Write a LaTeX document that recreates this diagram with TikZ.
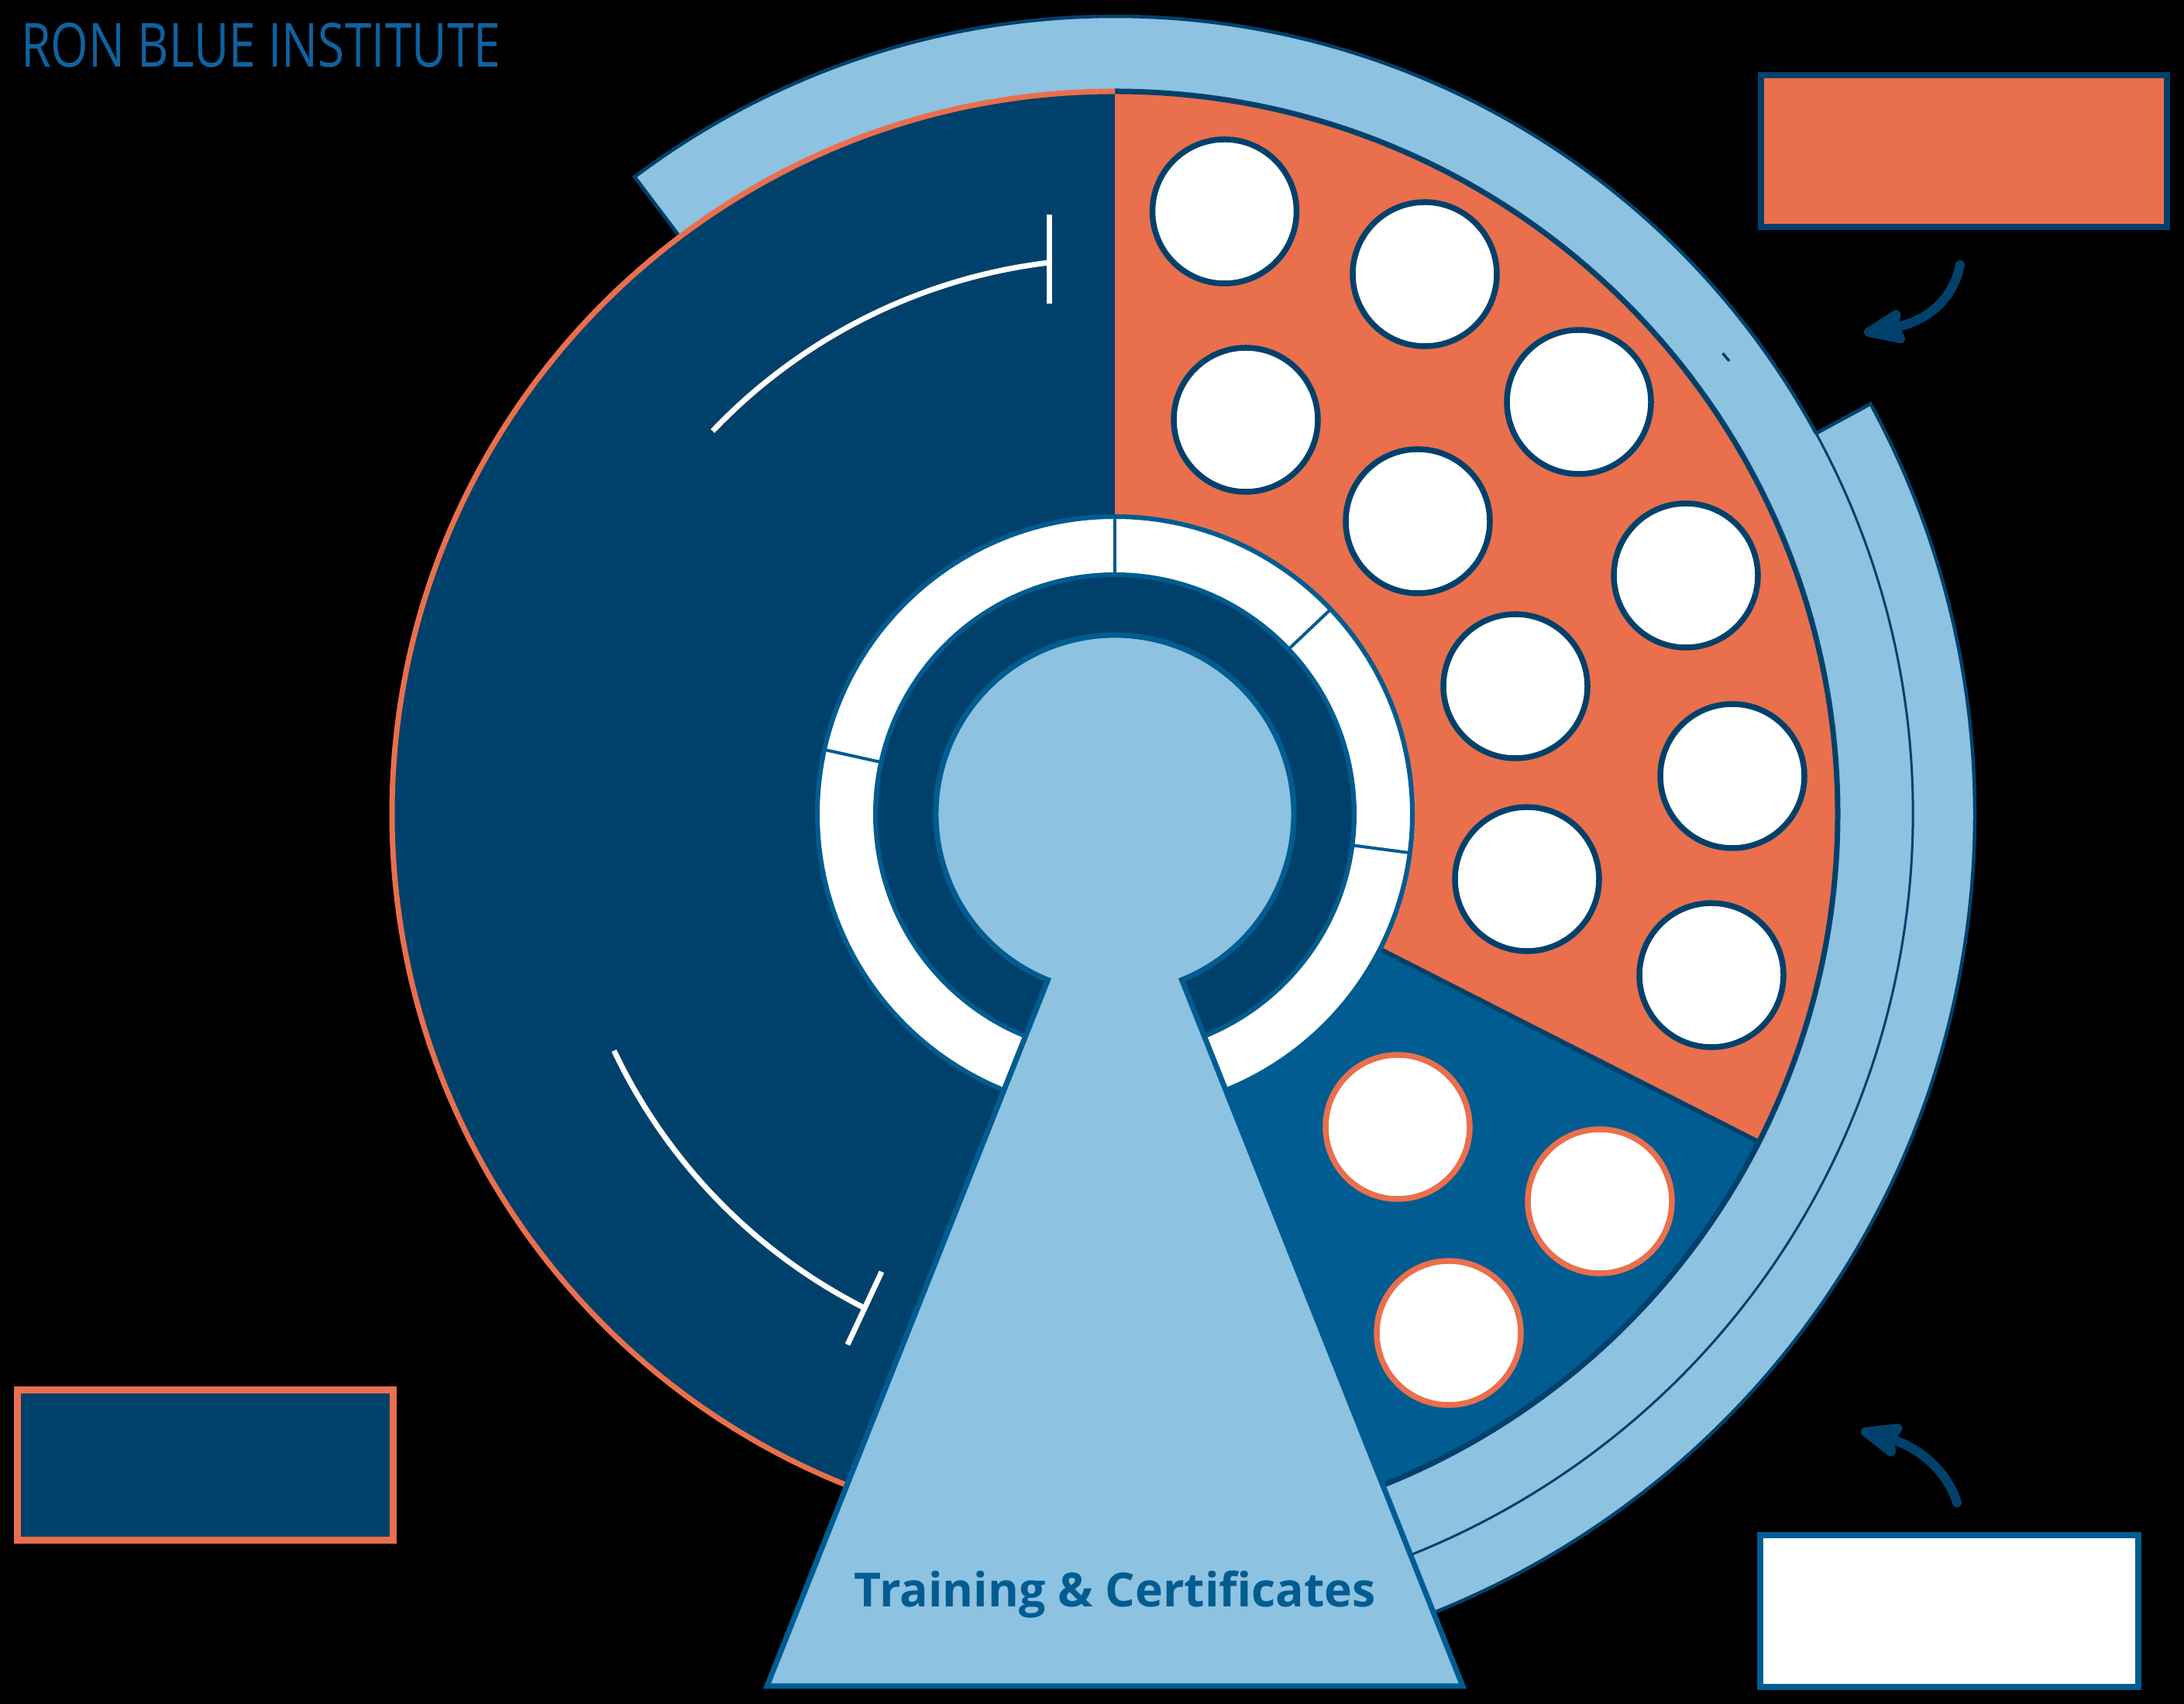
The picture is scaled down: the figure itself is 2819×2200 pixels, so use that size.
\documentclass[tikz,border=0pt]{standalone}
\usepackage{fontspec}
\setmainfont{Open Sans}
\usetikzlibrary{arrows.meta}
\definecolor{navy}{HTML}{00416B}
\definecolor{medblue}{HTML}{005C91}
\definecolor{lightblue}{HTML}{8DC2E1}
\definecolor{orng}{HTML}{EA6F4C}
\definecolor{titleblue}{HTML}{0F62A0}
\tikzset{
  ocirc/.style={circle, draw=navy, fill=white, line width=7.5pt, minimum size=186pt, inner sep=0pt},
  bcirc/.style={circle, draw=orng, fill=white, line width=7.5pt, minimum size=186pt, inner sep=0pt},
  whiteline/.style={draw=white, line width=7pt},
  divider/.style={draw=medblue, line width=4pt},
  arrowline/.style={draw=navy, line width=12pt, line cap=round, -{Stealth[length=64pt,width=50pt,inset=8pt,round]}},
  boxstyle/.style={rectangle, inner sep=0pt, minimum height=196pt}
}
\begin{document}
\begin{tikzpicture}[x=1pt,y=1pt]
\useasboundingbox (0,0) rectangle (2819,2200);
\fill[black] (0,0) rectangle (2819,2200);

\begin{scope}[shift={(1439,1149)}]
  % outer bands
  \fill[lightblue] (28.5:1110) arc[start angle=28.5,end angle=-97,radius=1110] -- (-97:1030) arc[start angle=-97,end angle=28.5,radius=1030] -- cycle;
  \fill[lightblue] (127:1030) arc[start angle=127,end angle=-97,radius=1030] -- (-97:933) arc[start angle=-97,end angle=127,radius=933] -- cycle;
  \draw[navy,line width=4.5pt] (-97:1110) arc[start angle=-97,end angle=28.5,radius=1110] -- (28.5:1030);
  \draw[navy,line width=4.5pt] (28.5:1030) arc[start angle=28.5,end angle=127,radius=1030] -- (127:933);
  \draw[navy,line width=3pt] (28.5:1030) arc[start angle=28.5,end angle=-97,radius=1030];
  \draw[navy,line width=3.5pt] (784.5,595) -- (793,585);

  % main disc
  \fill[navy] (0,0) circle[radius=933];
  \fill[orng] (0,0) -- (90:933) arc[start angle=90,end angle=-27,radius=933] -- cycle;
  \fill[medblue] (0,0) -- (-27:933) arc[start angle=-27,end angle=-100,radius=933] -- cycle;
  \draw[navy,line width=6pt] (0,0) -- (-27:933);
  \draw[navy,line width=7pt] (90:933) arc[start angle=90,end angle=-100,radius=933];
  \draw[orng,line width=7pt] (90:933) arc[start angle=90,end angle=260,radius=933];

  % circles in the orange sector
  \node[ocirc] (o1) at (141.5,778) {};
  \node[ocirc] (o2) at (400,697) {};
  \node[ocirc] (o3) at (169,509) {};
  \node[ocirc] (o4) at (599,532) {};
  \node[ocirc] (o5) at (391,378) {};
  \node[ocirc] (o6) at (737,308) {};
  \node[ocirc] (o7) at (517,165) {};
  \node[ocirc] (o8) at (797,49) {};
  \node[ocirc] (o9) at (532,-84) {};
  \node[ocirc] (o10) at (770,-208) {};
  % circles in the blue sector
  \node[bcirc] (b1) at (365,-404) {};
  \node[bcirc] (b2) at (626,-500) {};
  \node[bcirc] (b3) at (431,-670) {};

  % white arcs with end bars
  \draw[whiteline] (136.4:717) arc[start angle=136.4,end angle=96.8,radius=717];
  \draw[whiteline] (-85,659) -- (-85,774);
  \draw[whiteline] (205.3:715) arc[start angle=205.3,end angle=243.1,radius=715];
  \draw[whiteline] (-301,-591) -- (-345,-685);

  % rings
  \draw[medblue, fill=white, line width=6pt] (0,0) circle[radius=384];
  \foreach \a in {90,43.5,167.5,-7.5} \draw[divider] (\a:306) -- (\a:386);
  \draw[medblue, fill=navy, line width=6pt] (0,0) circle[radius=309];

  % keyhole
  \draw[medblue, fill=lightblue, line width=7pt] (-68:231) arc[start angle=-68,end angle=248,radius=231] -- (-449,-1126) -- (449,-1126) -- cycle;
\end{scope}

\node[anchor=base, inner sep=0pt, text=medblue] (train) at (1439.5,125) {\resizebox{673pt}{!}{\bfseries Training \& Certificates}};

% title
\node[anchor=south west, inner sep=0pt, text=titleblue] (title) at (27,2113) {\resizebox{619pt}{57pt}{RON BLUE INSTITUTE}};

% boxes
\node[boxstyle, draw=navy, fill=orng, line width=8pt, minimum width=524pt] (obox) at (2535,2005) {};
\node[boxstyle, draw=medblue, fill=white, line width=8pt, minimum width=488pt] (wbox) at (2516,120) {};
\node[boxstyle, draw=orng, fill=navy, line width=9pt, minimum width=485pt, minimum height=194pt] (nbox) at (265,308.5) {};

% arrows
\coordinate (a1s) at (2530,1858);
\coordinate (a1e) at (2406,1770);
\draw[arrowline] (a1s) .. controls (2518,1800) and (2470,1782) .. (a1e);
\coordinate (a2s) at (2526,260);
\coordinate (a2e) at (2402,353);
\draw[arrowline] (a2s) .. controls (2510,310) and (2465,335) .. (a2e);
\end{tikzpicture}
\end{document}
